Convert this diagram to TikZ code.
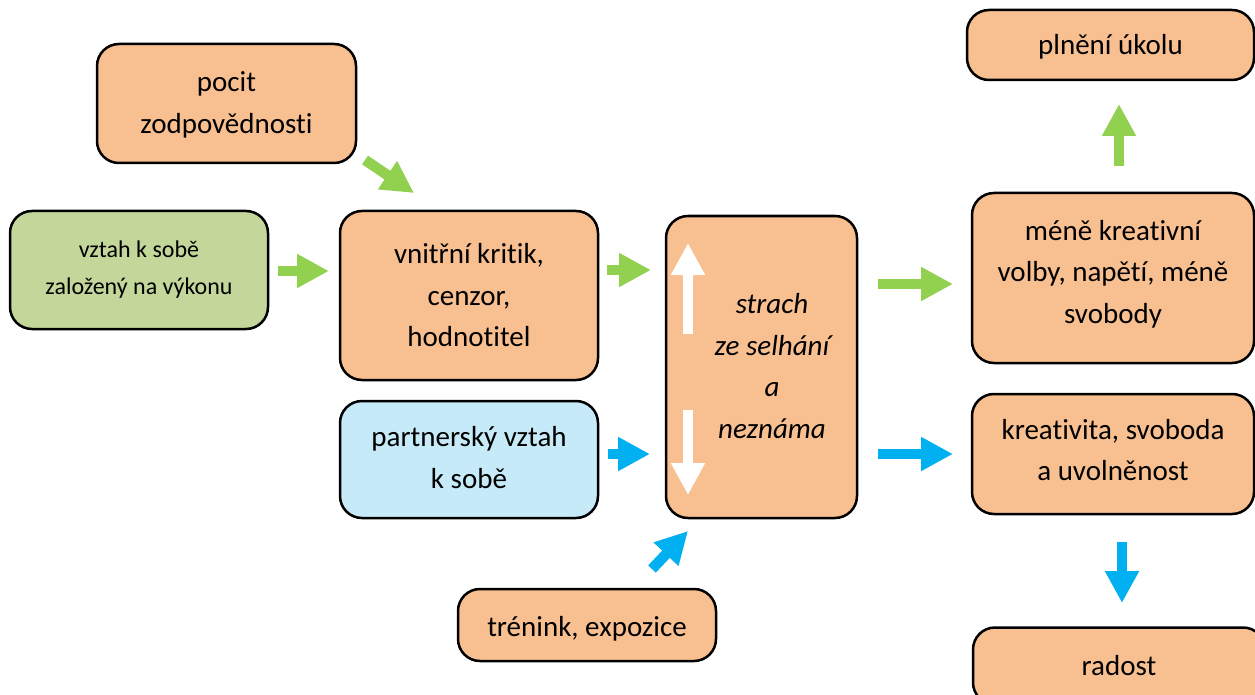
\documentclass[tikz,border=0pt]{standalone}
\usepackage{fontspec}
\setmainfont{Carlito}[Ligatures={NoCommon,NoRequired,NoContextual}]
\usetikzlibrary{arrows.meta}
\definecolor{boxorange}{HTML}{F8C091}
\definecolor{boxgreen}{HTML}{C4D79B}
\definecolor{boxblue}{HTML}{C6EAF8}
\definecolor{arrgreen}{HTML}{92D050}
\definecolor{arrblue}{HTML}{00B0F0}
\tikzset{
  textfont/.style={font=\fontsize{29}{41.5}\selectfont},
  box/.style={draw=black, line width=2.5pt, rounded corners=22pt, align=center,
    inner sep=0pt, textfont},
  obox/.style={box, fill=boxorange},
  label text/.style={align=center, inner sep=0pt, textfont},
  blockarrow/.style={line width=10.5pt, -{Triangle[width=32pt,length=32pt]}},
  garrow/.style={blockarrow, draw=arrgreen},
  barrow/.style={blockarrow, draw=arrblue},
  warrow/.style={blockarrow, draw=white},
}
\begin{document}
\begin{tikzpicture}[x=1pt, y=-1pt]
\useasboundingbox (0,0) rectangle (1255,695);

% boxes
\node[obox, minimum width=259pt, minimum height=119pt] (pocit) at (226.5,103.5) {};
\node[label text] (pocittext) at (226.5,105) {pocit\\zodpovědnosti};
\node[box, fill=boxgreen, minimum width=258pt, minimum height=118pt,
      font=\fontsize{24}{37}\selectfont] (vztah) at (139,270) {vztah k sobě\\založený na výkonu};
\node[obox, minimum width=258pt, minimum height=169pt] (kritik) at (469,295.5) {vnitřní kritik,\\cenzor,\\hodnotitel};
\node[box, fill=boxblue, minimum width=258pt, minimum height=117pt] (partner) at (469,459.5) {};
\node[label text] (partnertext) at (469,457.5) {partnerský vztah\\k sobě};
\node[obox, minimum width=191pt, minimum height=302pt] (strach) at (761.5,367) {};
\node[label text, font=\fontsize{29}{41.5}\selectfont\itshape] (strachtext) at (772,366)
  {strach\\ze selhání\\a\\neznáma};
\node[obox, minimum width=258pt, minimum height=72pt] (trenink) at (587,625) {};
\node[label text] (treninktext) at (587,629) {trénink, expozice};
\node[obox, minimum width=287pt, minimum height=70pt] (plneni) at (1110.5,45) {};
\node[label text] (plnenitext) at (1110.5,47) {plnění úkolu};
\node[obox, minimum width=282pt, minimum height=170pt] (mene) at (1113,278) {};
\node[label text] (menetext) at (1113,274) {méně kreativní\\volby, napětí, méně\\svobody};
\node[obox, minimum width=282pt, minimum height=120pt] (kreativ) at (1113,454) {};
\node[label text] (kreativtext) at (1113,450) {kreativita, svoboda\\a uvolněnost};
\begin{scope}
  \clip (0,0) rectangle (1255,695);
  \node[obox, minimum width=292pt, minimum height=77pt] (radost) at (1119,666) {radost};
\end{scope}

% block arrow end points
\coordinate (a1s) at (365,160);  \coordinate (a1e) at (414,193);
\coordinate (a2s) at (278,271);  \coordinate (a2e) at (329,271);
\coordinate (a3s) at (607,270);  \coordinate (a3e) at (651,270);
\coordinate (a4s) at (608,454);  \coordinate (a4e) at (650,454);
\coordinate (a5s) at (652,569);  \coordinate (a5e) at (688,531);
\coordinate (a6s) at (878,284);  \coordinate (a6e) at (953,284);
\coordinate (a7s) at (878,454);  \coordinate (a7e) at (953,454);
\coordinate (a8s) at (1119,166); \coordinate (a8e) at (1119,104);
\coordinate (a9s) at (1122,542); \coordinate (a9e) at (1122,603);
\coordinate (wus) at (688,334);  \coordinate (wue) at (688,243);
\coordinate (wds) at (688,410);  \coordinate (wde) at (688,495);

% block arrows
\draw[garrow] (a1s) -- (a1e);
\draw[garrow] (a2s) -- (a2e);
\draw[garrow] (a3s) -- (a3e);
\draw[barrow] (a4s) -- (a4e);
\draw[barrow] (a5s) -- (a5e);
\draw[garrow] (a6s) -- (a6e);
\draw[barrow] (a7s) -- (a7e);
\draw[garrow] (a8s) -- (a8e);
\draw[barrow] (a9s) -- (a9e);
\draw[warrow] (wus) -- (wue);
\draw[warrow] (wds) -- (wde);
\end{tikzpicture}
\end{document}
